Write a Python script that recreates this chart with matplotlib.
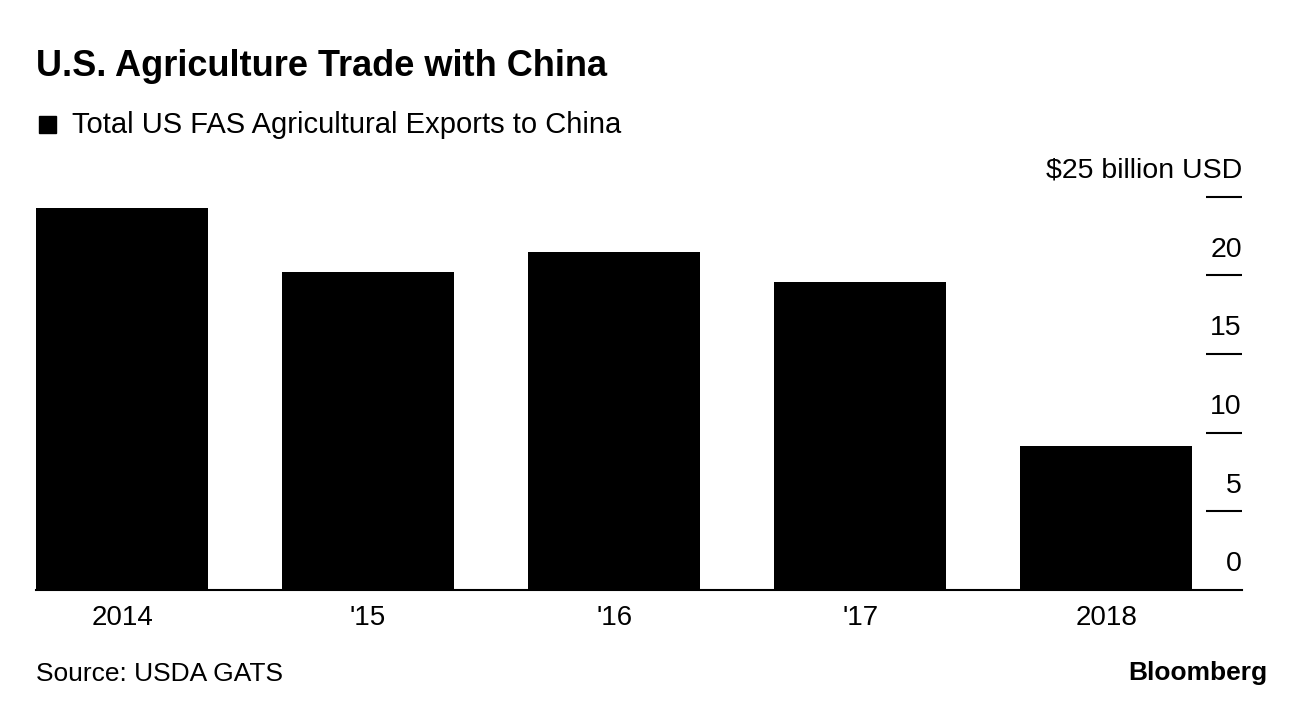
import matplotlib
matplotlib.use("Agg")
import matplotlib.pyplot as plt
from matplotlib.patches import Rectangle
import matplotlib.transforms as mtransforms

years = ["2014", "'15", "'16", "'17", "2018"]
exports = [24.3, 20.2, 21.5, 19.6, 9.15]
yticks = [0, 5, 10, 15, 20, 25]
ytick_labels = ["0", "5", "10", "15", "20", "$25 billion USD"]

FONT = "Liberation Sans"
plt.rcParams["font.family"] = [FONT, "DejaVu Sans"]

W, H = 1296, 702
fig = plt.figure(figsize=(W / 100, H / 100), dpi=100)
ax = fig.add_axes([36 / W, (H - 590) / H, (1242 - 36) / W, (590 - 196.7) / H])

x = list(range(len(years)))
ax.bar(x, exports, width=0.7, color="black", zorder=2)
ax.set_xlim(-0.35, -0.35 + 1206 / 246)
ax.set_ylim(0, 25)

for s in ["top", "right", "left"]:
    ax.spines[s].set_visible(False)
ax.spines["bottom"].set_color("black")
ax.spines["bottom"].set_linewidth(1.5)
ax.spines["bottom"].set_zorder(3)

ax.set_xticks(x)
ax.set_xticklabels(years, fontsize=20)
ax.tick_params(axis="x", length=0, pad=11)
ax.set_yticks([])

trans = mtransforms.blended_transform_factory(ax.transAxes, ax.transData)
for v, lab in zip(yticks, ytick_labels):
    if v > 0:
        ax.plot([(1206 - 36) / 1206, 1.0], [v, v], transform=trans,
                color="black", lw=1.5, clip_on=False, solid_capstyle="butt")
    ax.annotate(lab, xy=(1.0, v), xycoords=trans, xytext=(0, 13.5),
                textcoords="offset points", ha="right", va="baseline",
                fontsize=20.5)

# Title
fig.text(36 / W, 1 - 76 / H, "U.S. Agriculture Trade with China",
         fontsize=26, fontweight="bold", ha="left", va="baseline")
# Legend
fig.patches.append(Rectangle((39 / W, 1 - 133 / H), 17 / W, 17 / H,
                             transform=fig.transFigure, color="black"))
fig.text(72 / W, 1 - 133 / H, "Total US FAS Agricultural Exports to China",
         fontsize=21, ha="left", va="baseline")
# Source
fig.text(36 / W, 1 - 681 / H, "Source: USDA GATS",
         fontsize=19, ha="left", va="baseline")
# Logo
fig.text(1267 / W, 1 - 680 / H, "Bloomberg",
         fontsize=19, fontweight="bold", ha="right", va="baseline")

fig.savefig("out.png", dpi=100)
